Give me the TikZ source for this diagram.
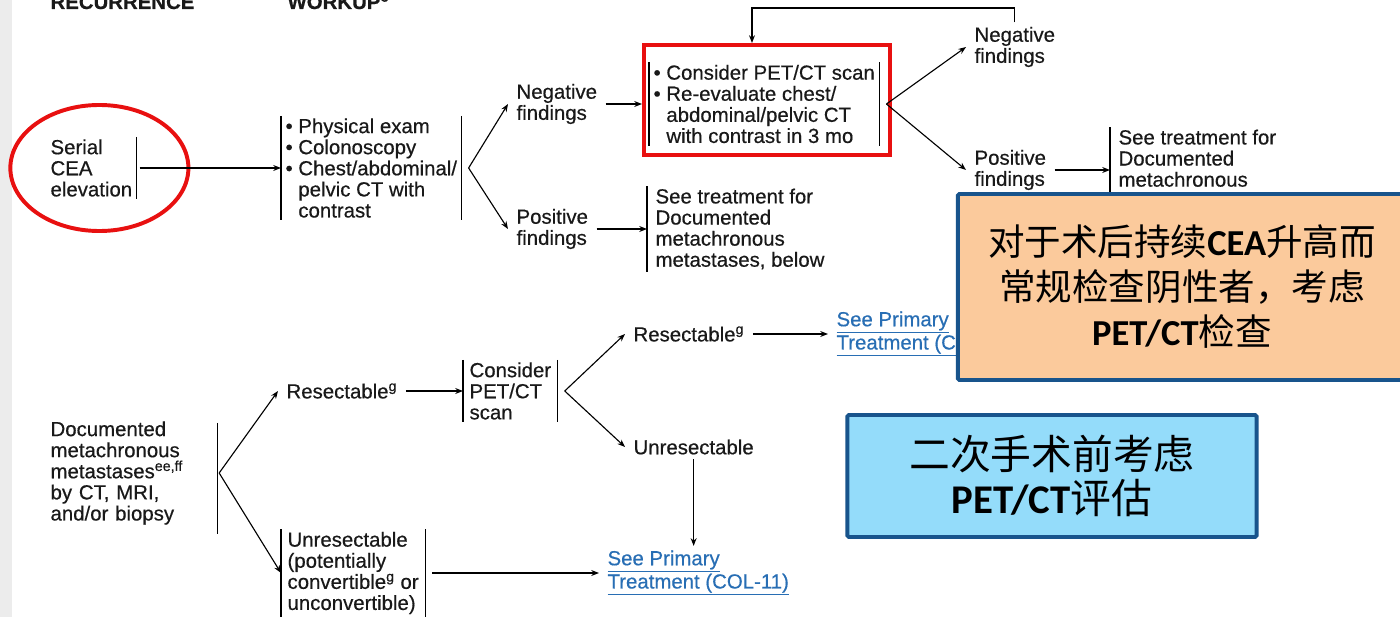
\documentclass[tikz,border=0pt]{standalone}
\usepackage{fontspec}
\setmainfont{Liberation Sans}[FakeBold=0.5]
\newfontfamily\cjkfont{Noto Sans CJK SC}
\newfontfamily\notelatin{Carlito}
\usetikzlibrary{arrows.meta}
\definecolor{recred}{RGB}{232,16,16}
\definecolor{linkblue}{RGB}{40,110,180}
\definecolor{noteedge}{RGB}{24,84,140}
\definecolor{notepeach}{RGB}{251,202,156}
\definecolor{noteblue}{RGB}{148,220,250}
\newcommand{\latb}[1]{{\notelatin\bfseries #1}}
\tikzset{
  txt/.style={font=\fontsize{14.5}{15}\selectfont, text=black!90, align=left, anchor=west, inner xsep=0.2cm, inner ysep=0.1cm},
  barred/.style={txt, inner xsep=0.1cm, inner ysep=0.05cm},
  link/.style={txt, text=linkblue},
  note/.style={draw=noteedge, line width=2.8pt, rounded corners=1pt, align=center, text=black, font=\cjkfont},
}
\begin{document}
\begin{tikzpicture}[x=0.025cm,y=-0.025cm,>={Stealth[length=5.5pt,width=4.2pt]},line width=0.8pt]
\useasboundingbox (0,0) rectangle (1400,617);
\fill[gray!15] (0,0) rectangle (12,617);
% column heads, cut at the top
\node[txt,anchor=base west,font=\fontsize{14.5}{15}\selectfont\bfseries] (hrec) at (42,9) {RECURRENCE};
\node[txt,anchor=base west,font=\fontsize{14.5}{15}\selectfont\bfseries] (hwk) at (279,9) {WORKUP\textsuperscript{c}};
% serial CEA branch
\node[barred] (cea) at (46,168) {Serial\\CEA\\elevation};
\draw[recred, line width=2.8pt] ([xshift=0.2cm]cea.center) ellipse [x radius=2.225cm, y radius=1.575cm];
\node[barred] (wk) at (281,168) {• Physical exam\\• Colonoscopy\\• Chest/abdominal/\\\hphantom{• }pelvic CT with\\\hphantom{• }contrast};
\node[txt] (neg1) at (508,104) {Negative\\findings};
\node[txt] (pos1) at (508,229) {Positive\\findings};
\node[draw=recred, line width=2.8pt, minimum width=6.15cm, minimum height=2.75cm] (recbox) at (767,100) {};
\node[barred] (rec) at (649,104) {• Consider PET/CT scan\\• Re-evaluate chest/\\\hphantom{• }abdominal/pelvic CT\\\hphantom{• }with contrast in 3 mo};
\node[barred,inner xsep=0.2cm] (see1) at (647,229) {See treatment for\\Documented\\metachronous\\metastases, below};
\node[txt] (neg2) at (966,47) {Negative\\findings};
\node[txt] (pos2) at (966,170) {Positive\\findings};
\node[barred,inner xsep=0.2cm] (see2) at (1110,170) {See treatment for\\Documented\\metachronous\\metastases, below};
% documented metastases branch
\node[barred,text width=4.05cm] (doc) at (46,473) {Documented\\metachronous\\metastases\textsuperscript{ee,ff}\\by CT, MRI,\\and/or biopsy};
\node[txt] (res1) at (278,391) {Resectable\textsuperscript{g}};
\node[barred,inner xsep=0.15cm] (cons) at (463,391) {Consider\\PET/CT\\scan};
\node[txt] (res2) at (625,334) {Resectable\textsuperscript{g}};
\node[txt] (unres2) at (625,447) {Unresectable};
\node[link] (prim1) at (828,334) {\underline{See Primary}\\\underline{Treatment (COL-11)}};
\node[barred,inner xsep=0.15cm] (unres) at (281,573) {Unresectable\\(potentially\\convertible\textsuperscript{g} or\\unconvertible)};
\node[link] (prim2) at (599,573) {\underline{See Primary}\\\underline{Treatment (COL-11)}};
% bars
\draw (cea.north east) -- (cea.south east);
\draw (wk.north west) -- (wk.south west) (wk.north east) -- (wk.south east);
\draw (rec.north west) -- (rec.south west) (rec.north east) -- (rec.south east);
\draw (see1.north west) -- (see1.south west);
\draw (see2.north west) -- (see2.south west);
\draw ([yshift=-0.1cm]doc.north east) -- ([yshift=-0.18cm]doc.south east);
\draw (cons.north west) -- (cons.south west) (cons.north east) -- (cons.south east);
\draw (unres.north west) -- ([yshift=-0.2cm]unres.south west) (unres.north east) -- ([yshift=-0.2cm]unres.south east);
% connectors
\coordinate (ceastart) at ([xshift=0.075cm]cea.east);
\coordinate (wkfork) at ([xshift=0.175cm]wk.east);
\coordinate (recfork) at ([xshift=0.175cm]rec.east);
\coordinate (docfork) at ([xshift=0.05cm]doc.east);
\coordinate (consfork) at ([xshift=0.175cm]cons.east);
\draw[->] (ceastart) -- (wk.west);
\draw[->] (wkfork) -- (neg1.west);
\draw[->] (wkfork) -- (pos1.west);
\draw[->] (neg1.east) -- (neg1.east -| recbox.west);
\draw[->] (pos1) -- (see1);
\draw[->] (recfork) -- (neg2.west);
\draw[->] (recfork) -- (pos2.west);
\draw[->] (pos2) -- (see2);
\draw[->] (neg2.north) |- ([xshift=-0.375cm,yshift=0.875cm]recbox.north) -- ([xshift=-0.375cm]recbox.north);
\draw[->] (docfork) -- (res1.west);
\draw[->] (docfork) -- (unres.west);
\draw[->] (res1) -- (cons);
\draw[->] (consfork) -- (res2.west);
\draw[->] (consfork) -- (unres2.west);
\draw[->] (res2) -- (prim1);
\draw[->] (unres2.south) -- (unres2.south |- prim2.north);
\draw[->] ([xshift=0.175cm]unres.east) -- (prim2.west);
% notes on top
\node[note, fill=notepeach, minimum width=11.2cm, minimum height=4.65cm, font=\cjkfont\fontsize{26}{32}\selectfont] (note1) at (1182,287) {对于术后持续\latb{CEA}升高而\\常规检查阴性者，考虑\\\latb{PET/CT}检查};
\node[note, fill=noteblue, minimum width=10.225cm, minimum height=3.05cm, font=\cjkfont\fontsize{29}{31.5}\selectfont] (note2) at (1052,476) {二次手术前考虑\\\latb{PET/CT}评估};
\end{tikzpicture}
\end{document}
